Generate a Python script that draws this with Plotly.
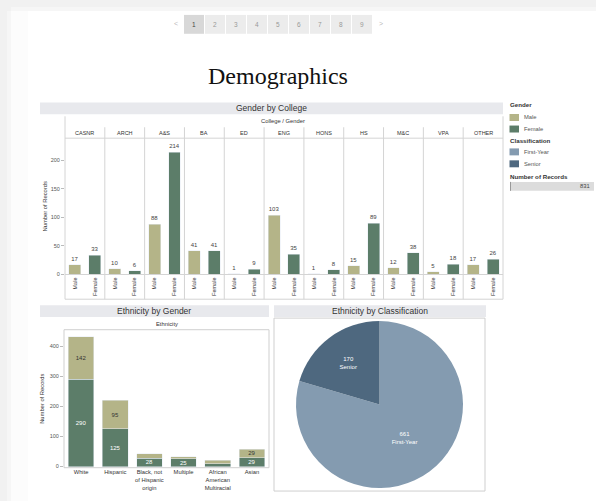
import plotly.graph_objects as go

W, H = 596, 504

# ---------------- data ----------------
colleges = ["CASNR", "ARCH", "A&S", "BA", "ED", "ENG", "HONS", "HS", "M&C", "VPA", "OTHER"]
college_male = [17, 10, 88, 41, 1, 103, 1, 15, 12, 5, 17]
college_female = [33, 6, 214, 41, 9, 35, 8, 89, 38, 18, 26]

ethnicities = ["White", "Hispanic", "Black, not<br>of Hispanic<br>origin", "Multiple",
               "African<br>American<br>Multiracial", "Asian"]
eth_female = [290, 125, 28, 25, 9, 29]
eth_male = [142, 95, 14, 7, 11, 29]

classes = ["First-Year", "Senior"]
class_counts = [661, 170]
total_records = 831

college_ticks = [0, 50, 100, 150, 200]
eth_ticks = [0, 100, 200, 300, 400]

# ---------------- style ----------------
C_MALE = "#b4b488"
C_FEMALE = "#5c7d69"
C_FIRST = "#849bb0"
C_SENIOR = "#4e687f"
HDR_BG = "#e8e9ed"
LINE = "#d4d4d4"
FONT = "Liberation Sans, Arial, sans-serif"


def fx(x):
    return x / W


def fy(y):
    return 1 - y / H


male_cats = [f"{c} Male" for c in colleges]
female_cats = [f"{c} Female" for c in colleges]
cat_order = [v for pair in zip(male_cats, female_cats) for v in pair]
cat_text = [v for pair in zip(["Male"] * len(colleges), ["Female"] * len(colleges)) for v in pair]

fig = go.Figure()

# Gender by College
fig.add_trace(go.Bar(x=male_cats, y=college_male, name="Male", marker_color=C_MALE, width=0.6,
                     text=college_male, textposition="outside", cliponaxis=False,
                     textfont=dict(size=6, color="#444", family=FONT),
                     xaxis="x", yaxis="y", showlegend=False))
fig.add_trace(go.Bar(x=female_cats, y=college_female, name="Female", marker_color=C_FEMALE, width=0.6,
                     text=college_female, textposition="outside", cliponaxis=False,
                     textfont=dict(size=6, color="#444", family=FONT),
                     xaxis="x", yaxis="y", showlegend=False))

# Ethnicity by Gender
fig.add_trace(go.Bar(x=ethnicities, y=eth_female, name="Female", marker_color=C_FEMALE, width=0.75,
                     text=[str(v) if v >= 20 else "" for v in eth_female], textposition="inside",
                     insidetextanchor="middle", textangle=0, constraintext="none",
                     textfont=dict(size=6, color="white", family=FONT),
                     xaxis="x2", yaxis="y2", showlegend=False))
fig.add_trace(go.Bar(x=ethnicities, y=eth_male, name="Male", marker_color=C_MALE, width=0.75,
                     text=[str(v) if v >= 20 else "" for v in eth_male], textposition="inside",
                     insidetextanchor="middle", textangle=0, constraintext="none",
                     textfont=dict(size=6, color="#333", family=FONT),
                     xaxis="x2", yaxis="y2", showlegend=False))

# Ethnicity by Classification
fig.add_trace(go.Pie(labels=classes, values=class_counts, sort=False, direction="clockwise", rotation=0,
                     marker=dict(colors=[C_FIRST, C_SENIOR], line=dict(width=0)),
                     texttemplate="%{value}<br>%{label}", textposition="inside",
                     insidetextorientation="horizontal",
                     textfont=dict(size=6, color="white", family=FONT),
                     domain=dict(x=[fx(296), fx(463)], y=[fy(491), fy(323)]),
                     showlegend=False, hoverinfo="skip"))

# college plot geometry
CX0, CX1 = 65, 503
CY_TOP, CY_ZERO = 139, 276
c_scale = (276 - 161) / 200.0
c_top = (CY_ZERO - CY_TOP) / c_scale

EX0, EX1 = 64, 269
EY_TOP, EY_BOT = 331.7, 470.5
e_scale = (469.3 - 348.3) / 400.0
e_min = -(EY_BOT - 469.3) / e_scale
e_max = (469.3 - EY_TOP) / e_scale

tick_font = dict(size=5.5, color="#555", family=FONT)

fig.update_layout(
    width=W, height=H, autosize=False,
    margin=dict(l=0, r=0, t=0, b=0),
    paper_bgcolor="white", plot_bgcolor="rgba(0,0,0,0)",
    barmode="stack",
    font=dict(family=FONT, color="#333"),
    xaxis=dict(domain=[fx(CX0), fx(CX1)], anchor="y", type="category",
               categoryorder="array", categoryarray=cat_order,
               tickvals=cat_order, ticktext=cat_text, tickangle=-90,
               tickfont=dict(size=5.5, color="#333", family=FONT),
               showline=True, linecolor=LINE, linewidth=1, ticks="", showgrid=False,
               fixedrange=True),
    yaxis=dict(domain=[fy(CY_ZERO), fy(CY_TOP)], anchor="x", range=[0, c_top],
               tickvals=college_ticks, ticks="outside", ticklen=3, tickcolor="#bbb",
               tickfont=tick_font, showgrid=False, zeroline=False, showline=False,
               title=dict(text="Number of Records", font=dict(size=5.8, color="#333", family=FONT),
                          standoff=2)),
    xaxis2=dict(domain=[fx(EX0), fx(EX1)], anchor="y2", type="category",
                tickfont=dict(size=5.8, color="#333", family=FONT), tickangle=0,
                showline=False, ticks="", showgrid=False),
    yaxis2=dict(domain=[fy(EY_BOT), fy(EY_TOP)], anchor="x2", range=[e_min, e_max],
                tickvals=eth_ticks, ticks="outside", ticklen=3, tickcolor="#bbb",
                tickfont=tick_font, showgrid=False, zeroline=False, showline=False,
                title=dict(text="Number of Records", font=dict(size=5.8, color="#333", family=FONT),
                           standoff=4)),
)

shapes = []
annotations = []


def rect(x0, y0, x1, y1, fill, line=None, lw=0):
    shapes.append(dict(type="rect", xref="paper", yref="paper",
                       x0=fx(x0), x1=fx(x1), y0=fy(y1), y1=fy(y0),
                       fillcolor=fill, line=dict(color=line or fill, width=lw), layer="below"))


def line(x0, y0, x1, y1, color=LINE, w=1):
    shapes.append(dict(type="line", xref="paper", yref="paper",
                       x0=fx(x0), x1=fx(x1), y0=fy(y0), y1=fy(y1),
                       line=dict(color=color, width=w), layer="below"))


def text(t, x, y, size, color="#333", xanchor="center", family=FONT):
    annotations.append(dict(text=t, x=fx(x), y=fy(y), xref="paper", yref="paper",
                            xanchor=xanchor, yanchor="middle", showarrow=False,
                            font=dict(size=size, color=color, family=family)))


# page shadow
rect(0, 0, W, 11, "#f1f1f1")
rect(0, 7, W, 11, "#f6f6f6")
rect(0, 0, 11, H, "#f1f1f1")
rect(7, 11, 11, H, "#f6f6f6")
rect(11, 11, 28, H, "#fcfcfc")

# pagination
text("&lt;", 176.5, 24, 7, "#bbb")
for i in range(9):
    x0 = 184 + i * 21
    rect(x0, 15, x0 + 20, 34, "#d8d8d8" if i == 0 else "#ececec")
    text(str(i + 1), x0 + 10, 24.5, 6.5, "#444" if i == 0 else "#999")
text("&gt;", 381, 24, 7, "#bbb")

# title
text("Demographics", 278, 76, 24, "#111", family="Liberation Serif, Times New Roman, serif")

# Gender by College panel
rect(40, 103, 503, 115, HDR_BG)
text("Gender by College", 271.5, 109, 8.5, "#333")
text("College / Gender", 283, 122, 5.8, "#333")
line(CX0, 117, CX0, 301)
line(CX1, 117, CX1, 301)
line(CX0, CY_TOP, CX1, CY_TOP)
line(CX0, 301, CX1, 301)
colw = (CX1 - CX0) / len(colleges)
for k, c in enumerate(colleges):
    if k > 0:
        line(CX0 + k * colw, 128, CX0 + k * colw, 301)
    text(c, CX0 + (k + 0.5) * colw, 133.5, 5.5, "#333")

# Ethnicity by Gender panel
rect(40, 307, 269, 319, HDR_BG)
text("Ethnicity by Gender", 154.5, 313, 8.5, "#333")
text("Ethnicity", 166.5, 325.5, 5.8, "#333")
shapes.append(dict(type="rect", xref="paper", yref="paper", x0=fx(EX0), x1=fx(EX1),
                   y0=fy(EY_BOT), y1=fy(EY_TOP), line=dict(color="#cfcfcf", width=1),
                   fillcolor="rgba(0,0,0,0)", layer="below"))

# Ethnicity by Classification panel
rect(274, 307, 486, 319, HDR_BG)
text("Ethnicity by Classification", 380, 313, 8.5, "#333")
shapes.append(dict(type="rect", xref="paper", yref="paper", x0=fx(274), x1=fx(485),
                   y0=fy(494), y1=fy(320), line=dict(color="#cfcfcf", width=1),
                   fillcolor="rgba(0,0,0,0)", layer="below"))

# legends
text("<b>Gender</b>", 508, 105.3, 6.2, "#333", xanchor="left")
rect(509.5, 114.7, 519, 121.7, C_MALE)
text("Male", 522, 118.2, 5.8, "#555", xanchor="left")
rect(509.5, 126.3, 519, 133.3, C_FEMALE)
text("Female", 522, 129.8, 5.8, "#555", xanchor="left")
text("<b>Classification</b>", 508, 141.3, 6.2, "#333", xanchor="left")
rect(509.5, 149.3, 519, 156.3, C_FIRST)
text("First-Year", 522, 152.8, 5.8, "#555", xanchor="left")
rect(509.5, 161.3, 519, 168.3, C_SENIOR)
text("Senior", 522, 164.8, 5.8, "#555", xanchor="left")
text("<b>Number of Records</b>", 508, 177.5, 6.2, "#333", xanchor="left")
rect(510, 183, 594, 192, "#dcdcdc")
line(510.5, 183, 510.5, 192, "#999", 1)
text(str(total_records), 592, 187.5, 5.8, "#444", xanchor="right")

fig.update_layout(shapes=shapes, annotations=annotations)

fig.write_html("out.html", config={"displayModeBar": False},
               post_script="document.body.style.margin='0';")
